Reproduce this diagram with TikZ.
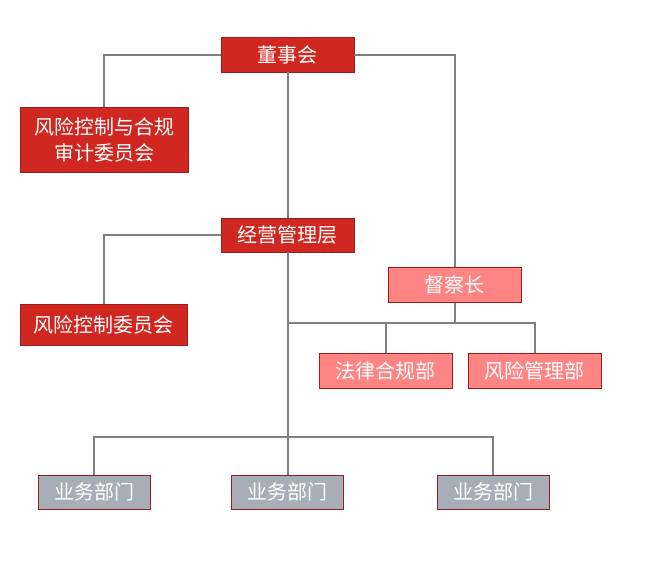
\documentclass[tikz,border=0pt]{standalone}
\usepackage{fontspec}
\newfontfamily\cjk{Noto Sans CJK SC}
\usepackage{tikz}
\usetikzlibrary{positioning, calc}
\definecolor{hongse}{RGB}{208,40,33}
\definecolor{fense}{RGB}{255,132,132}
\definecolor{huise}{RGB}{168,174,184}
\definecolor{biankuang}{RGB}{150,30,30}
\definecolor{xian}{RGB}{127,127,127}

\begin{document}
\begin{tikzpicture}[x=1pt,y=-1pt,
    kuang/.style={draw=biankuang, line width=0.8pt, text=white, inner sep=0pt, align=center,
                  font=\cjk\fontsize{20}{26}\selectfont},
    hong/.style={kuang, fill=hongse},
    fen/.style={kuang, fill=fense, minimum width=133pt, minimum height=35pt},
    hui/.style={kuang, fill=huise, minimum width=112pt, minimum height=34pt},
    lianxian/.style={draw=xian, line width=2pt}]

            \useasboundingbox (0,0) rectangle (660,565);

            % 各个框
            \node[hong, minimum width=133pt, minimum height=35pt] (dongshi) at (287.5,54.5) {董事会}; % 董事会
            \node[hong, minimum width=168pt, minimum height=65pt] (shenji) at (104,139.5) {风险控制与合规\\审计委员会}; % 审计委员会
            \node[hong, minimum width=133pt, minimum height=34pt] (jingying) at (287.5,235) {经营管理层}; % 经营管理层
            \node[hong, minimum width=167pt, minimum height=41pt] (fengkong) at (103.5,324.5) {风险控制委员会}; % 风险控制委员会
            \node[fen] (ducha) at (454.5,285) {督察长}; % 督察长
            \node[fen] (hegui) at (385.5,370.5) {法律合规部}; % 法律合规部
            \node[fen] (fengxian) at (534.5,370.5) {风险管理部}; % 风险管理部
            \node[hui] (yewu1) at (94,492) {业务部门}; % 业务部门
            \node[hui] (yewu2) at (287.5,492) {业务部门};
            \node[hui] (yewu3) at (493,492) {业务部门};

            % 连接点
            \coordinate (jd1) at (jingying.south |- 0,323);
            \coordinate (jd2) at (jingying.south |- 0,437);

            % 连线
            \draw[lianxian] (dongshi.west) -| (shenji.north);
            \draw[lianxian] (dongshi.east) -| (ducha.north);
            \draw[lianxian] (dongshi.south) -- (jingying.north);
            \draw[lianxian] (jingying.west) -| (fengkong.north);
            \draw[lianxian] (jingying.south) -- (yewu2.north);
            \draw[lianxian] (ducha.south) -- (ducha.south |- jd1);
            \draw[lianxian] (jd1) -| (fengxian.north);
            \draw[lianxian] (hegui.north) -- (hegui.north |- jd1);
            \draw[lianxian] (yewu1.north) |- (jd2) -| (yewu3.north);

            \end{tikzpicture}
\end{document}
